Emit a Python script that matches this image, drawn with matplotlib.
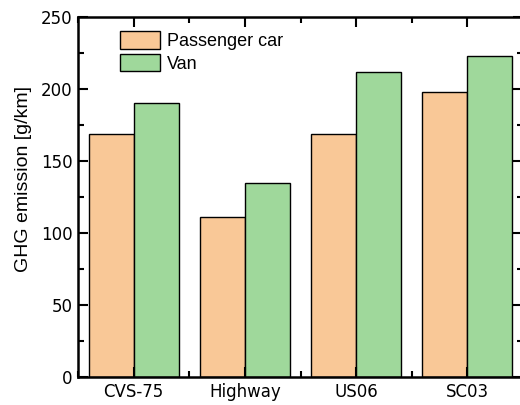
import matplotlib
matplotlib.use('Agg')
import matplotlib.pyplot as plt
from matplotlib.ticker import MultipleLocator, FixedLocator
import numpy as np

# data
cycles = ['CVS-75', 'Highway', 'US06', 'SC03']
passenger_car = [169, 111, 168.5, 198]
van = [190.5, 134.5, 211.5, 223]

fig = plt.figure(figsize=(5.2, 4.05), dpi=100)
# right spine sits just outside the picture in the reference
ax = fig.add_axes([78 / 520, 28 / 405, 445 / 520, 360 / 405])

x = np.arange(len(cycles))
w = 0.405
ax.bar(x - w / 2, passenger_car, w, color='#F9C897', edgecolor='black',
       linewidth=1.0, label='Passenger car')
ax.bar(x + w / 2, van, w, color='#9FD89B', edgecolor='black',
       linewidth=1.0, label='Van')

ax.set_xlim(-0.5, len(cycles) - 0.5)
ax.set_ylim(0, 250)
ax.set_xticks(x)
ax.set_xticklabels(cycles)
ax.xaxis.set_minor_locator(FixedLocator(np.arange(-0.5, len(cycles), 1.0)))
ax.yaxis.set_major_locator(MultipleLocator(50))
ax.yaxis.set_minor_locator(MultipleLocator(25))

for s in ax.spines.values():
    s.set_linewidth(1.8)
ax.tick_params(which='both', direction='in', top=True, right=True,
               labelsize=12, width=1.5, pad=4)
ax.tick_params(which='major', length=7)
ax.tick_params(which='minor', length=4)
ax.set_ylabel('GHG emission [g/km]', fontsize=14, family='Liberation Sans')
ax.yaxis.set_label_coords(-0.104, 0.55)

ax.legend(loc='upper left', frameon=False,
          prop={'family': 'Liberation Sans', 'size': 13},
          bbox_to_anchor=(0.07, 0.99), handlelength=2.2, handleheight=1.1,
          handletextpad=0.4, labelspacing=0.2, borderaxespad=0.2)

plt.savefig('out.png', dpi=100)
